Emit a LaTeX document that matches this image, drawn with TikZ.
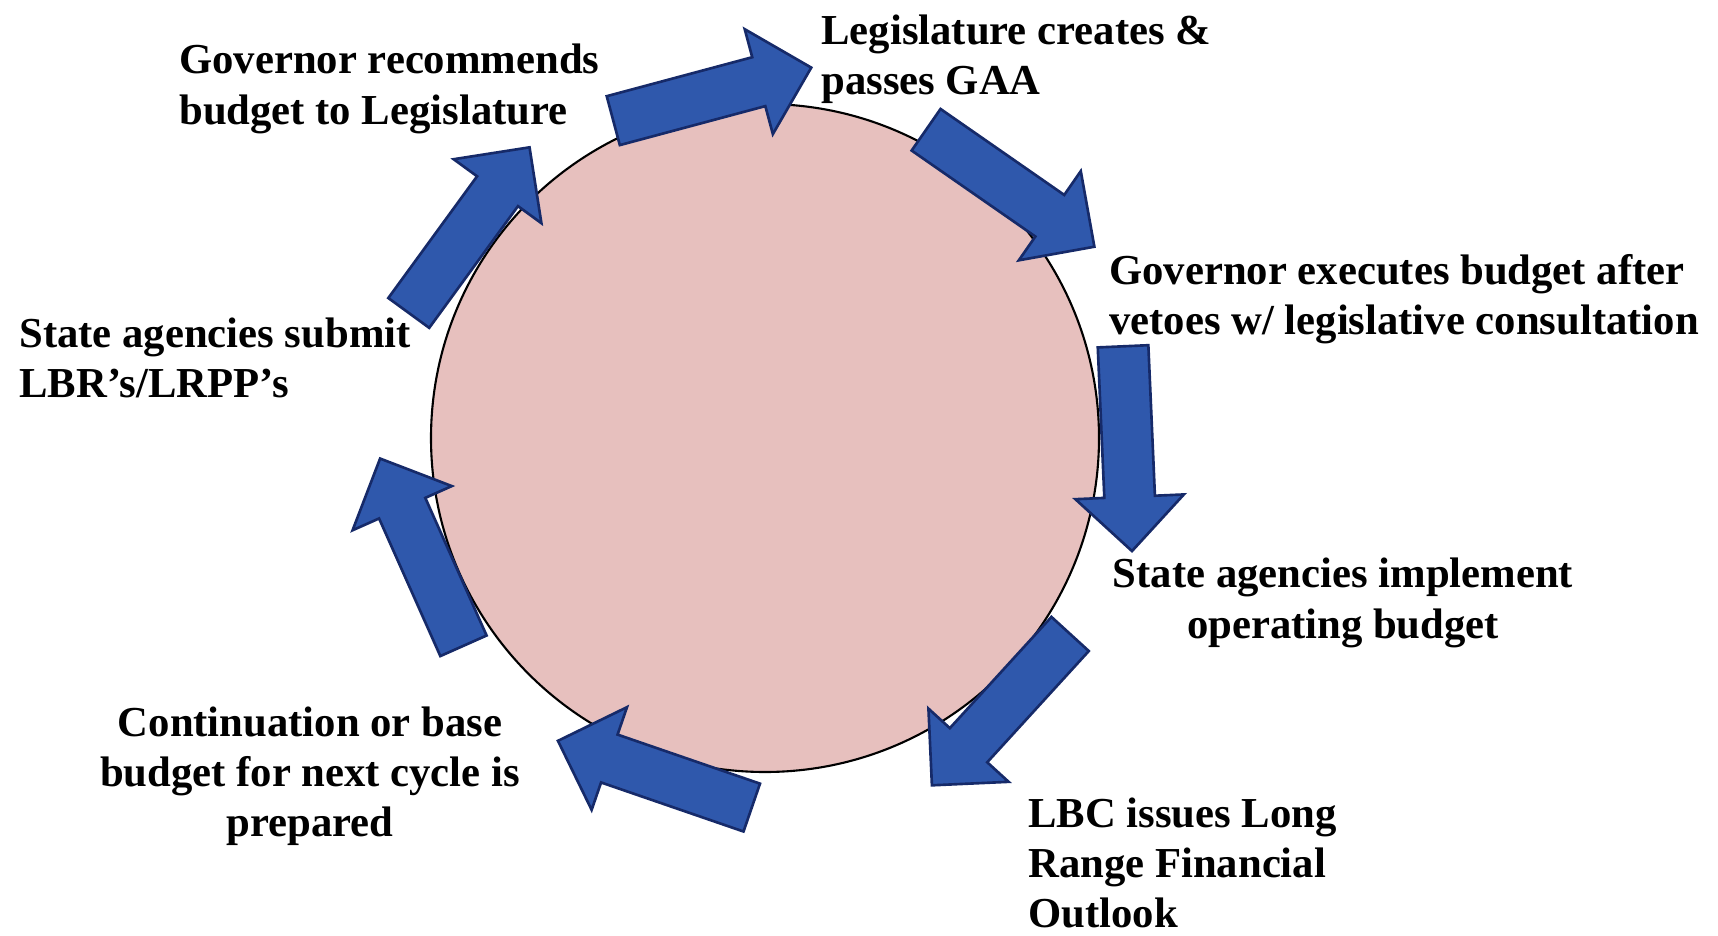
\documentclass[tikz,border=0pt]{standalone}
\usepackage{fontspec}
\setmainfont{Liberation Serif}
\usetikzlibrary{shapes.arrows}

\definecolor{discpink}{RGB}{231,192,190}
\definecolor{arrowblue}{RGB}{47,88,172}
\definecolor{arrowline}{RGB}{22,42,105}

\tikzset{
	stage/.style={font=\fontsize{24.3}{28.6}\selectfont\bfseries, inner sep=0pt},
	flow/.style={single arrow, draw=arrowline, fill=arrowblue, line width=1.5pt,
		minimum height=4.1cm, minimum width=2.15cm, single arrow head extend=0.58cm,
		inner xsep=0pt, inner ysep=0.48cm, anchor=tail}
}

\begin{document}
\begin{tikzpicture}[x=0.02cm, y=-0.02cm]

	\useasboundingbox (0,0) rectangle (1718,936);

	\draw[fill=discpink, line width=1.2pt] (765,438) circle(334);

	\node[flow, rotate=15] (recommend) at (612,121) {};
	\node[flow, rotate=-34.8] (passes) at (925,129) {};
	\node[flow, rotate=-87.5] (executes) at (1123,345) {};
	\node[flow, rotate=227.6] (implement) at (1071,633) {};
	\node[flow, rotate=161] (outlook) at (753,808) {};
	\node[flow, rotate=114] (prepare) at (464,647) {};
	\node[flow, rotate=53.9] (submits) at (408,314) {};

	\node[stage, anchor=west, align=left] (gov) at (179,89) {Governor recommends\\budget to Legislature};
	\node[stage, anchor=west, align=left] (leg) at (821,59) {Legislature creates \&\\passes GAA};
	\node[stage, anchor=west, align=left] (exec) at (1109,299) {Governor executes budget after\\vetoes w/ legislative consultation};
	\node[stage, align=center] (impl) at (1343,603) {State agencies implement\\operating budget};
	\node[stage, anchor=west, align=left] (lbc) at (1028,863) {LBC issues Long\\Range Financial\\Outlook};
	\node[stage, align=center] (base) at (310,776) {Continuation or base\\budget for next cycle is\\prepared};
	\node[stage, anchor=west, align=left] (submit) at (19,358) {State agencies submit\\LBR's/LRPP's};

\end{tikzpicture}
\end{document}
